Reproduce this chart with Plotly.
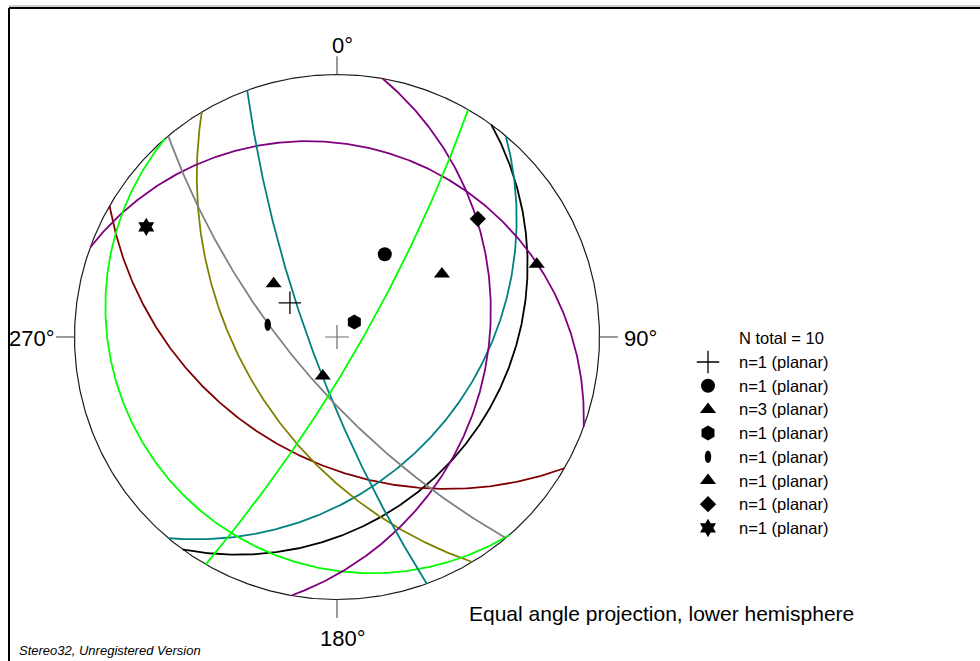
import numpy as np
import plotly.graph_objects as go

# Planar measurements (dip direction / dip, degrees)
dip_dirs = [126, 210, 130, 239, 20, 229, 100, 250, 230, 120]
dips = [25, 40, 35, 50, 18, 10, 30, 78, 70, 80]
circle_colors = ["#000000", "#800000", "#008080", "#808000", "#800080",
                 "#00ff00", "#800080", "#008080", "#808080", "#00ff00"]
# legend group of each plane
groups = [0, 1, 2, 2, 2, 3, 4, 5, 6, 7]

group_symbols = ["cross-thin", "circle", "triangle-up", "hexagon",
                 "ellipse", "triangle-up", "diamond", "hexagram"]
group_sizes = [16, 14, 14, 15, 0, 14, 12.5, 14]

direction_labels = ["0°", "90°", "180°", "270°"]
projection_note = "Equal angle projection, lower hemisphere"
credit = "Stereo32, Unregistered Version"

W, H = 980, 661
CX, CY, R = 337.0, 337.0, 262.5   # net centre and radius in pixels


def px(x):
    return (x - CX) / R


def py(y):
    return (CY - y) / R


def stereo(e, n, d):
    """Equal-angle (stereographic) projection of lower-hemisphere unit vectors."""
    return e / (1.0 + d), n / (1.0 + d)


fig = go.Figure()

# primitive circle
t = np.linspace(0, 2 * np.pi, 721)
fig.add_trace(go.Scatter(x=np.sin(t), y=np.cos(t), mode="lines",
                         line=dict(color="#1a1a1a", width=1.2),
                         hoverinfo="skip", showlegend=False))

# great circles
for a, d, c in zip(dip_dirs, dips, circle_colors):
    ar, dr = np.radians(a), np.radians(d)
    s = np.array([np.sin(ar - np.pi / 2), np.cos(ar - np.pi / 2), 0.0])
    dv = np.array([np.sin(ar) * np.cos(dr), np.cos(ar) * np.cos(dr), np.sin(dr)])
    tt = np.linspace(0, np.pi, 361)
    v = np.outer(np.cos(tt), s) + np.outer(np.sin(tt), dv)
    gx, gy = stereo(v[:, 0], v[:, 1], v[:, 2])
    fig.add_trace(go.Scatter(x=gx, y=gy, mode="lines",
                             line=dict(color=c, width=1.8),
                             hoverinfo="skip", showlegend=False))

# centre mark
fig.add_trace(go.Scatter(x=[0], y=[0], mode="markers",
                         marker=dict(symbol="cross-thin", size=17,
                                     line=dict(color="#6e6e6e", width=1.2)),
                         hoverinfo="skip", showlegend=False))

shapes = []


def ellipse_shape(x, y):
    return dict(type="circle", xref="x", yref="y",
                x0=x - 3.2 / R, x1=x + 3.2 / R, y0=y - 6.2 / R, y1=y + 6.2 / R,
                fillcolor="black", line=dict(color="black", width=0))


# poles to planes
for a, d, g in zip(dip_dirs, dips, groups):
    ar, dr = np.radians(a), np.radians(d)
    ne, nn, nd = -np.sin(ar) * np.sin(dr), -np.cos(ar) * np.sin(dr), np.cos(dr)
    x, y = stereo(ne, nn, nd)
    sym = group_symbols[g]
    if sym == "ellipse":
        shapes.append(ellipse_shape(x, y))
        continue
    if sym == "cross-thin":
        mk = dict(symbol=sym, size=group_sizes[g], line=dict(color="black", width=1.3))
    else:
        mk = dict(symbol=sym, size=group_sizes[g], color="black",
                  line=dict(color="black", width=0))
    fig.add_trace(go.Scatter(x=[x], y=[y], mode="markers", marker=mk,
                             hoverinfo="skip", showlegend=False))

# direction ticks
for ang in (0, 90, 180, 270):
    ra = np.radians(ang)
    fig.add_trace(go.Scatter(x=[np.sin(ra), 1.07 * np.sin(ra)],
                             y=[np.cos(ra), 1.07 * np.cos(ra)], mode="lines",
                             line=dict(color="#555555", width=1.2),
                             hoverinfo="skip", showlegend=False))

annotations = []
label_font = dict(family="Liberation Sans, Arial, sans-serif", size=22, color="black")
label_pos = [(342, 45, "center"), (622, 338, "left"), (343, 638, "center"), (57, 338, "right")]
for lab, (lx, ly, anc) in zip(direction_labels, label_pos):
    annotations.append(dict(x=px(lx), y=py(ly), xref="x", yref="y", text=lab,
                            showarrow=False, xanchor=anc, yanchor="middle",
                            font=label_font))

# legend block
counts = [groups.count(i) for i in range(len(group_symbols))]
leg_font = dict(family="Liberation Sans, Arial, sans-serif", size=16.5, color="black")
annotations.append(dict(x=px(737), y=py(338), xref="x", yref="y",
                        text=f"N total = {sum(counts)}", showarrow=False,
                        xanchor="left", yanchor="middle", font=leg_font))
for i, (sym, sz, n) in enumerate(zip(group_symbols, group_sizes, counts)):
    ry = 362 + 23.7 * i
    lx, ly = px(708), py(ry)
    if sym == "ellipse":
        shapes.append(ellipse_shape(lx, ly))
    elif sym == "cross-thin":
        fig.add_trace(go.Scatter(x=[lx], y=[ly], mode="markers",
                                 marker=dict(symbol=sym, size=sz,
                                             line=dict(color="black", width=1.3)),
                                 hoverinfo="skip", showlegend=False))
    else:
        fig.add_trace(go.Scatter(x=[lx], y=[ly], mode="markers",
                                 marker=dict(symbol=sym, size=sz, color="black",
                                             line=dict(width=0)),
                                 hoverinfo="skip", showlegend=False))
    annotations.append(dict(x=px(737), y=ly, xref="x", yref="y",
                            text=f"n={n} (planar)", showarrow=False,
                            xanchor="left", yanchor="middle", font=leg_font))

annotations.append(dict(x=px(467), y=py(613), xref="x", yref="y", text=projection_note,
                        showarrow=False, xanchor="left", yanchor="middle",
                        font=dict(family="Liberation Sans, Arial, sans-serif",
                                  size=21, color="black")))
annotations.append(dict(x=px(17), y=py(650), xref="x", yref="y",
                        text=f"<i>{credit}</i>", showarrow=False,
                        xanchor="left", yanchor="middle",
                        font=dict(family="Liberation Sans, Arial, sans-serif",
                                  size=13, color="black")))

# outer frame (top and left edges)
shapes.append(dict(type="line", xref="paper", yref="paper",
                   x0=9 / W, x1=1, y0=1 - 6 / H, y1=1 - 6 / H,
                   line=dict(color="#a0a0a0", width=1)))
shapes.append(dict(type="line", xref="paper", yref="paper",
                   x0=9 / W, x1=1, y0=1 - 8 / H, y1=1 - 8 / H,
                   line=dict(color="black", width=2)))
shapes.append(dict(type="line", xref="paper", yref="paper",
                   x0=9 / W, x1=9 / W, y0=0, y1=1 - 8 / H,
                   line=dict(color="black", width=2)))

fig.update_layout(
    width=W, height=H,
    margin=dict(l=0, r=0, t=0, b=0),
    paper_bgcolor="white", plot_bgcolor="white",
    xaxis=dict(range=[px(0), px(W)], visible=False, fixedrange=True),
    yaxis=dict(range=[py(H), py(0)], visible=False, fixedrange=True),
    shapes=shapes, annotations=annotations, showlegend=False,
)

fig.write_html("out.html")
